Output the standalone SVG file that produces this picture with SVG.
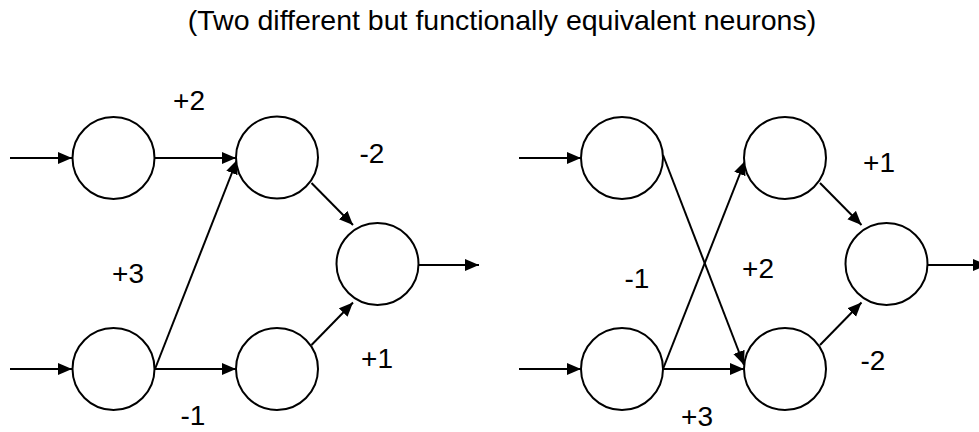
<svg xmlns="http://www.w3.org/2000/svg" width="979" height="432" viewBox="0 0 979 432">
<style>
.n{fill:#fff;stroke:#000;stroke-width:2}
.c{stroke:#000;stroke-width:2;fill:none;marker-end:url(#ah)}
.t{font-family:"Liberation Sans",Arial,sans-serif;font-size:28px;fill:#000;text-anchor:middle}
.title{font-family:"Liberation Sans",Arial,sans-serif;font-size:28.5px;fill:#000;text-anchor:middle}
</style>
<defs>
<marker id="ah" markerUnits="userSpaceOnUse" markerWidth="16" markerHeight="14" refX="14" refY="6" orient="auto">
<path d="M0,0 L14,6 L0,12 z" fill="#000"/>
</marker>
</defs>
<rect width="979" height="432" fill="#fff"/>
<text class="title" x="502" y="30">(Two different but functionally equivalent neurons)</text>
<g id="connectors">
<line class="c" x1="10" y1="158" x2="72" y2="158"/>
<line class="c" x1="10" y1="369" x2="72" y2="369"/>
<line class="c" x1="155" y1="158" x2="236" y2="158"/>
<line class="c" x1="155" y1="369" x2="237" y2="160"/>
<line class="c" x1="155" y1="369" x2="236" y2="369"/>
<line class="c" x1="311.5" y1="183" x2="353" y2="225"/>
<line class="c" x1="311.5" y1="345" x2="353" y2="302.5"/>
<line class="c" x1="419" y1="265" x2="479" y2="265"/>
<line class="c" x1="519" y1="158" x2="581" y2="158"/>
<line class="c" x1="519" y1="369" x2="581" y2="369"/>
<line class="c" x1="663" y1="155" x2="744" y2="365"/>
<line class="c" x1="663" y1="369" x2="745" y2="161"/>
<line class="c" x1="663" y1="369" x2="744" y2="369"/>
<line class="c" x1="820" y1="183" x2="861.5" y2="225"/>
<line class="c" x1="820" y1="345" x2="861.5" y2="302.5"/>
<line class="c" x1="927" y1="265" x2="987" y2="265"/>
</g>
<g id="l_in1"><circle class="n" cx="113.5" cy="158" r="41"/></g>
<g id="l_in2"><circle class="n" cx="113.5" cy="369" r="41"/></g>
<g id="l_h1"><circle class="n" cx="277" cy="157.5" r="41"/></g>
<g id="l_h2"><circle class="n" cx="277" cy="369" r="41"/></g>
<g id="l_out"><circle class="n" cx="377.5" cy="264" r="41"/></g>
<g id="r_in1"><circle class="n" cx="622" cy="158" r="41"/></g>
<g id="r_in2"><circle class="n" cx="622" cy="369" r="41"/></g>
<g id="r_h1"><circle class="n" cx="785" cy="158" r="41"/></g>
<g id="r_h2"><circle class="n" cx="785" cy="369" r="41"/></g>
<g id="r_out"><circle class="n" cx="886.5" cy="264" r="41"/></g>
<g id="labels">
<text class="t" x="189" y="110">+2</text>
<text class="t" x="372" y="163">-2</text>
<text class="t" x="128" y="283">+3</text>
<text class="t" x="377" y="368">+1</text>
<text class="t" x="193" y="425">-1</text>
<text class="t" x="879" y="172">+1</text>
<text class="t" x="637" y="288">-1</text>
<text class="t" x="758" y="278">+2</text>
<text class="t" x="873" y="370">-2</text>
<text class="t" x="697" y="426">+3</text>
</g>
</svg>
